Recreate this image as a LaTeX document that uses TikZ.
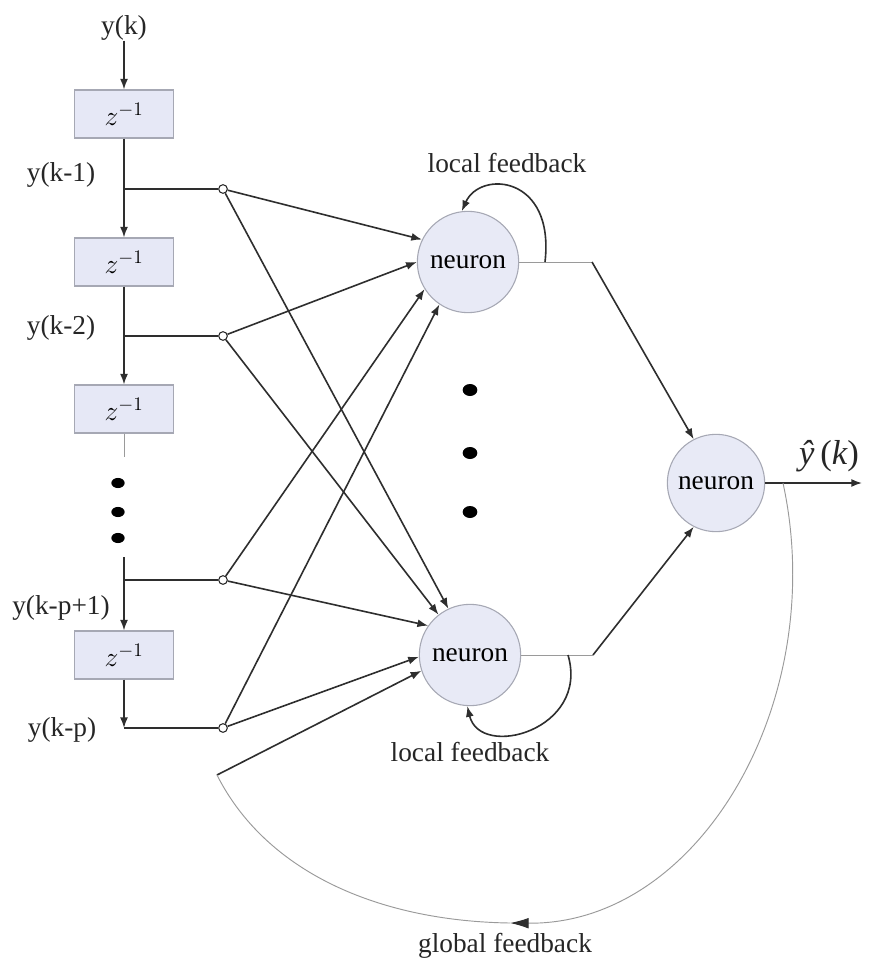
\documentclass[tikz,border=0pt]{standalone}
\usepackage{fontspec}
\setmainfont{Liberation Serif}
\usetikzlibrary{arrows.meta}
\definecolor{boxfill}{HTML}{E6E8F6}
\definecolor{boxline}{HTML}{A6A8B4}
\definecolor{neufill}{HTML}{E8EAF6}
\definecolor{dark}{HTML}{2E2E2E}
\definecolor{thingray}{HTML}{9A9A9A}
\tikzset{
  delaybox/.style={draw=boxline, fill=boxfill, line width=0.8pt, minimum width=74pt, minimum height=36pt, inner sep=0pt, font=\fontsize{22}{24}\selectfont},
  neuronnode/.style={circle, draw=boxline, fill=neufill, line width=0.8pt, minimum size=76pt, inner sep=0pt, font=\fontsize{20.5}{22}\selectfont},
  lbl/.style={font=\fontsize{20.5}{22}\selectfont, inner sep=0pt, text=black!85},
  junc/.style={circle, draw=dark, fill=white, line width=0.8pt, minimum size=6.5pt, inner sep=0pt},
  wire/.style={draw=dark, line width=1.2pt},
  arr/.style={wire, -{Latex[length=8pt,width=6pt]}},
  thinw/.style={draw=thingray, line width=0.7pt},
}
\begin{document}
\begin{tikzpicture}[x=0.75pt,y=-0.75pt]
\useasboundingbox[fill=white] (0,0) rectangle (869,962);

% delay line
\node[lbl] (yk) at (124,28) {y(k)};
\node[delaybox] (d1) at (124,114) {$z^{-1}$};
\node[delaybox] (d2) at (124,262) {$z^{-1}$};
\node[delaybox] (d3) at (124,409) {$z^{-1}$};
\node[delaybox] (d4) at (124,655) {$z^{-1}$};

\node[lbl] (l1) at (61,175) {y(k-1)};
\node[lbl] (l2) at (61,328) {y(k-2)};
\node[lbl] (l3) at (61,608) {y(k-p+1)};
\node[lbl] (l4) at (62,730) {y(k-p)};

\coordinate (b1) at (124,189);
\coordinate (b2) at (124,336);
\coordinate (e3) at (124,457);
\coordinate (s4) at (124,557);
\coordinate (b3) at (124,580);
\coordinate (b4) at (124,728);

\node[junc] (c1) at (223,189) {};
\node[junc] (c2) at (223,336) {};
\node[junc] (c3) at (223,580) {};
\node[junc] (c4) at (223,728) {};

\draw[arr] (yk) -- (d1);
\draw[arr] (d1) -- (d2);
\draw[arr] (d2) -- (d3);
\draw[thinw] (d3) -- (e3);
\draw[arr] (s4) -- (d4);
\draw[arr] (d4) -- (b4);
\draw[wire] (b1) -- (c1);
\draw[wire] (b2) -- (c2);
\draw[wire] (b3) -- (c3);
\draw[wire] (b4) -- (c4);

% dots
\fill[black] (118,483) ellipse (5pt and 3.8pt);
\fill[black] (118,512) ellipse (5pt and 3.8pt);
\fill[black] (118,538) ellipse (5pt and 3.8pt);
\fill[black] (470,390) ellipse (5.5pt and 4.5pt);
\fill[black] (470,453) ellipse (5.5pt and 4.5pt);
\fill[black] (470,512) ellipse (5.5pt and 4.5pt);

% neurons
\node[neuronnode] (n1) at (468,262) {neuron};
\node[neuronnode] (n2) at (470,655) {neuron};
\node[neuronnode, minimum size=73pt] (n3) at (716,483) {neuron};

% inputs
\draw[arr] (c1) -- (n1.154);
\draw[arr] (c2) -- (n1.180);
\draw[arr] (c3) -- (n1.212);
\draw[arr] (c4) -- (n1.236);
\draw[arr] (c1) -- (n2.115);
\draw[arr] (c2) -- (n2.128);
\draw[arr] (c3) -- (n2.145);
\draw[arr] (c4) -- (n2.182);
\coordinate (fb) at (217,775);
\draw[arr] (fb) -- (n2.198);

% outputs
\coordinate (k1) at (592,262);
\coordinate (k2) at (593,655);
\draw[thinw] (n1.east) -- (k1);
\draw[arr] (k1) -- (n3.117);
\draw[thinw] (n2.east) -- (k2);
\draw[arr] (k2) -- (n3.243);
\coordinate (yo) at (862,483);
\draw[arr] (n3.east) -- (yo);
\node[lbl, font=\fontsize{26}{28}\selectfont] (yhat) at (829,456) {\itshape ŷ\upshape\,(\itshape k\upshape)};

% local feedback
\coordinate (lf1) at (545,262);
\draw[arr] (lf1) .. controls (555,175) and (480,170) .. (n1.97);
\coordinate (lf2) at (568,655);
\draw[arr] (lf2) .. controls (590,730) and (480,760) .. (n2.267);
\node[lbl] (lft) at (507,163) {local feedback};
\node[lbl] (lfb) at (470,752) {local feedback};

% global feedback
\coordinate (g0) at (783,483);
\coordinate (gm) at (510,923);
\draw[thinw, -{Latex[length=14pt,width=8pt,color=dark]}] (g0) .. controls (830,700) and (700,925) .. (gm);
\draw[thinw] (gm) .. controls (375,921) and (265,870) .. (fb);
\node[lbl] (gfl) at (505,946) {global feedback};
\end{tikzpicture}
\end{document}
